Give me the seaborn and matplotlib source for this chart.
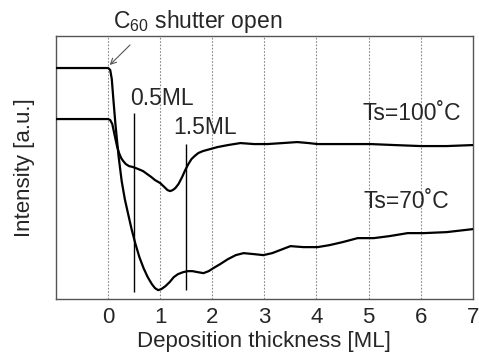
import matplotlib
matplotlib.use("Agg")
import matplotlib.pyplot as plt
import seaborn as sns
import pandas as pd

# Ts=100 C curve (thickness in ML, intensity in a.u.)
x100 = [-1.0, -0.5, 0.0, 0.04, 0.08, 0.12, 0.17, 0.21, 0.25, 0.29, 0.34, 0.40, 0.48, 0.58, 0.67,
        0.75, 0.83, 0.9, 1.0, 1.08, 1.14, 1.19, 1.24, 1.29, 1.35, 1.42, 1.48, 1.54, 1.6, 1.66,
        1.73, 1.82, 1.96, 2.1, 2.3, 2.54, 2.8, 3.06, 3.35, 3.63, 3.85, 4.02, 4.3, 4.6, 5.04,
        5.5, 6.0, 6.5, 7.0]
y100 = [180, 180, 180, 179, 175, 165, 153, 146, 141, 138, 135, 133, 132, 130, 128,
        125, 122, 119, 116, 112, 109, 108, 109, 111, 115, 122, 129, 135, 140, 143,
        146, 148, 150, 152, 154, 156, 155, 155, 156, 157, 156, 155, 155, 155, 155,
        154, 153, 153, 154]

# Ts=70 C curve
x70 = [-1.0, -0.5, 0.0, 0.04, 0.07, 0.1, 0.14, 0.2, 0.26, 0.32, 0.38, 0.45, 0.52, 0.6, 0.68,
       0.76, 0.84, 0.9, 0.96, 1.02, 1.1, 1.18, 1.26, 1.34, 1.44, 1.53, 1.62, 1.72, 1.83, 1.93,
       2.02, 2.15, 2.3, 2.45, 2.6, 2.8, 2.98, 3.15, 3.3, 3.5, 3.75, 4.02, 4.25, 4.5, 4.79,
       5.1, 5.4, 5.75, 6.06, 6.5, 7.0]
y70 = [231, 231, 231, 229, 220, 200, 175, 143, 118, 100, 86, 70, 56, 42, 31,
       22, 15, 11, 9, 10, 13, 17, 22, 25, 27, 28, 28, 27, 26, 28,
       31, 35, 40, 44, 46, 45, 44, 46, 49, 53, 52, 52, 54, 57, 61,
       61, 63, 66, 66, 67, 70]

xticks = [0, 1, 2, 3, 4, 5, 6, 7]
marks = [0.5, 1.5]

df100 = pd.DataFrame({"x": x100, "y": y100})
df70 = pd.DataFrame({"x": x70, "y": y70})

sns.set_style("white")
plt.rcParams["font.family"] = ["Liberation Sans", "DejaVu Sans"]
plt.rcParams["mathtext.default"] = "regular"

fig = plt.figure(figsize=(4.79, 3.6), dpi=100)
ax = fig.add_axes([0.117, 0.169, 0.870, 0.731])

for xv in xticks[:-1]:
    ax.axvline(xv, color="#888888", lw=0.8, ls=(0, (1.5, 1.5)), zorder=1)

sns.lineplot(data=df100, x="x", y="y", ax=ax, color="black", lw=1.6, sort=False, zorder=3)
sns.lineplot(data=df70, x="x", y="y", ax=ax, color="black", lw=1.6, sort=False, zorder=3)

ax.vlines(marks[0], 7, 186, color="black", lw=1.0, zorder=2)
ax.vlines(marks[1], 9, 155, color="black", lw=1.0, zorder=2)

ax.set_xlim(-1, 7)
ax.set_ylim(0, 263)
ax.set_xticks(xticks)
ax.set_xticklabels([str(t) for t in xticks], fontsize=16)
ax.set_yticks([])
ax.tick_params(axis="x", length=0, pad=6)
ax.set_xlabel("Deposition thickness [ML]", fontsize=16, labelpad=2)
ax.set_ylabel("Intensity [a.u.]", fontsize=16, labelpad=15)
for s in ax.spines.values():
    s.set_color("#555555")
    s.set_linewidth(1.0)

ax.text(0.42, 194, "0.5ML", fontsize=16.5, ha="left", va="baseline")
ax.text(1.25, 165, "1.5ML", fontsize=16.5, ha="left", va="baseline")
ax.text(4.88, 179, "Ts=100˚C", fontsize=16.5, ha="left", va="baseline")
ax.text(4.9, 91, "Ts=70˚C", fontsize=16.5, ha="left", va="baseline")

ax.text(0.1, 271, "C$_{60}$ shutter open", fontsize=16.5, ha="left", va="baseline", clip_on=False)
ax.annotate("", xy=(0.03, 234), xytext=(0.42, 254), annotation_clip=False,
            arrowprops=dict(arrowstyle="->", color="#555555", lw=0.8,
                            shrinkA=0, shrinkB=0))

fig.savefig("out.png", dpi=100)
